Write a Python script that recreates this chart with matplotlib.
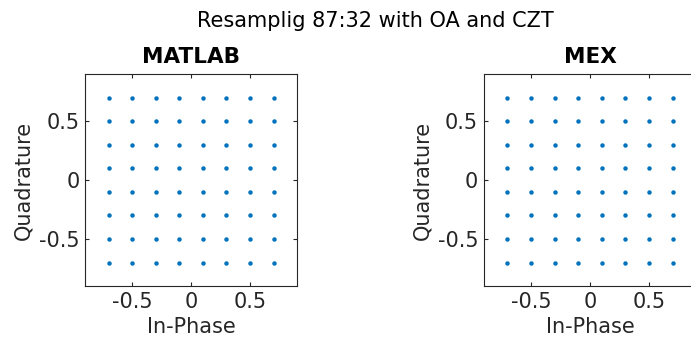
import numpy as np
import matplotlib
matplotlib.use('Agg')
import matplotlib.pyplot as plt

# 64-QAM constellation levels
levels_i = [-0.7, -0.5, -0.3, -0.1, 0.1, 0.3, 0.5, 0.7]
levels_q = [-0.7, -0.5, -0.3, -0.1, 0.1, 0.3, 0.5, 0.7]
titles = ['MATLAB', 'MEX']
ticks = [-0.5, 0, 0.5]
tick_labels = ['-0.5', '0', '0.5']

I, Q = np.meshgrid(levels_i, levels_q)

fig = plt.figure(figsize=(6.91, 3.43), dpi=100)
positions = [[0.123, 0.166, 0.307, 0.618], [0.700, 0.166, 0.3075, 0.618]]

for pos, t in zip(positions, titles):
    ax = fig.add_axes(pos)
    ax.plot(I.ravel(), Q.ravel(), 'o', color='#0072BD', markersize=3.2, markeredgewidth=0)
    ax.set_xlim(-0.9, 0.9)
    ax.set_ylim(-0.9, 0.9)
    ax.set_xticks(ticks)
    ax.set_xticklabels(tick_labels)
    ax.set_yticks(ticks)
    ax.set_yticklabels(tick_labels)
    ax.tick_params(direction='in', length=3, labelsize=15, colors='#262626',
                   top=True, right=True, labeltop=False, labelright=False, pad=4)
    for s in ax.spines.values():
        s.set_color('#262626')
        s.set_linewidth(0.8)
    ax.set_xlabel('In-Phase', fontsize=15, color='#262626', labelpad=4)
    ax.set_ylabel('Quadrature', fontsize=15, color='#262626', labelpad=4)
    ax.set_title(t, fontsize=15.5, fontweight='bold', pad=8)

fig.suptitle('Resamplig 87:32 with OA and CZT', fontsize=15, x=0.543, y=0.968)
fig.savefig('out.png', dpi=100)
